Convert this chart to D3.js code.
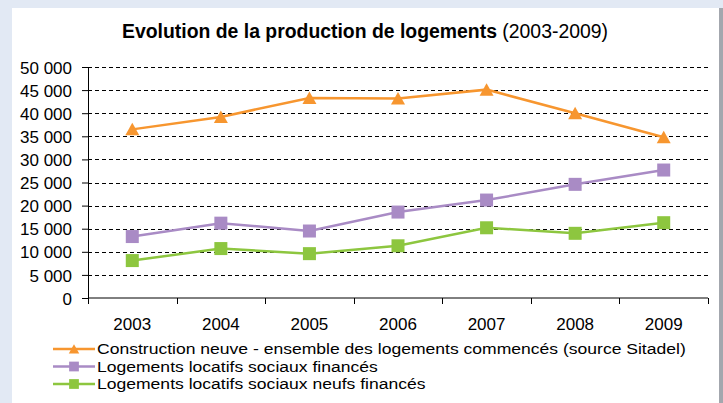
<!DOCTYPE html>
<html>
<head>
<meta charset="utf-8">
<script src="https://cdn.jsdelivr.net/npm/d3@7"></script>
<style>
  body { margin: 0; background: #e2e9f4; }
  svg text { font-family: "Liberation Sans", Arial, sans-serif; fill: #000; }
</style>
</head>
<body>
<svg width="723" height="403"></svg>
<script>
// Chart values
var years = ['2003', '2004', '2005', '2006', '2007', '2008', '2009'];
var constructionNeuve = [36500, 39200, 43300, 43200, 45100, 40000, 34800];
var locatifsSociaux = [13300, 16200, 14500, 18600, 21200, 24600, 27700];
var locatifsNeufs = [8100, 10700, 9600, 11300, 15200, 14000, 16300];
var yTicks = [0, 5000, 10000, 15000, 20000, 25000, 30000, 35000, 40000, 45000, 50000];
var seriesNames = [
    'Construction neuve - ensemble des logements commencés (source Sitadel)',
    'Logements locatifs sociaux financés',
    'Logements locatifs sociaux neufs financés'
];

var series = [
    {name: seriesNames[0], values: constructionNeuve, color: '#f7962f', marker: 'triangle'},
    {name: seriesNames[1], values: locatifsSociaux, color: '#a98bc5', marker: 'square'},
    {name: seriesNames[2], values: locatifsNeufs, color: '#8dc63f', marker: 'square'}
];

var svg = d3.select('svg');

// white panel with grey right edge
svg.append('rect').attr('x', 12).attr('y', 8).attr('width', 708).attr('height', 400).attr('fill', '#fff');
svg.append('rect').attr('x', 719).attr('y', 8).attr('width', 4).attr('height', 400).attr('fill', '#a3a7ae');

var padding = {t: 67, l: 88, r: 15, b: 105};
var chartWidth = 708 - padding.l;
var chartHeight = 298 - padding.t;

var chartG = svg.append('g')
    .attr('transform', 'translate(' + [padding.l, padding.t] + ')');

var xScale = d3.scaleBand().domain(years).range([0, chartWidth]);
var yScale = d3.scaleLinear().domain([0, 50000]).range([chartHeight, 0]);

var formatFr = function(d) {
    return d3.format(',')(d).replace(/,/g, ' ');
};

// dashed gridlines
chartG.selectAll('.grid')
    .data(yTicks.filter(function(d) { return d > 0; }))
    .enter().append('line')
    .attr('class', 'grid')
    .attr('x1', 0).attr('x2', chartWidth)
    .attr('y1', function(d) { return Math.round(yScale(d)) + 0.5; })
    .attr('y2', function(d) { return Math.round(yScale(d)) + 0.5; })
    .attr('stroke', '#000')
    .attr('stroke-dasharray', '4,3');

// y axis
var yAxis = chartG.append('g')
    .call(d3.axisLeft(yScale).tickValues(yTicks).tickFormat(formatFr).tickSize(6).tickSizeOuter(0));
yAxis.select('.domain').attr('stroke', '#000');
yAxis.selectAll('text').attr('font-size', 17).attr('x', -16).attr('dy', '0.36em');

// x axis, ticks on band edges
var xAxisG = chartG.append('g')
    .attr('transform', 'translate(0,' + chartHeight + ')');
xAxisG.append('line').attr('x1', 0).attr('x2', chartWidth).attr('stroke', '#000');
xAxisG.selectAll('.xtick')
    .data(years.concat(['end']))
    .enter().append('line')
    .attr('x1', function(d, i) { return Math.round(i * xScale.step()) + 0.5; })
    .attr('x2', function(d, i) { return Math.round(i * xScale.step()) + 0.5; })
    .attr('y1', 0).attr('y2', 6)
    .attr('stroke', '#000');
xAxisG.selectAll('.xlabel')
    .data(years)
    .enter().append('text')
    .attr('x', function(d) { return xScale(d) + xScale.bandwidth() / 2; })
    .attr('y', 31.5)
    .attr('text-anchor', 'middle')
    .attr('font-size', 17)
    .text(function(d) { return d; });

function drawMarker(sel, type, color) {
    if (type === 'triangle') {
        sel.append('path')
            .attr('d', 'M0,-6.5L7,6L-7,6Z')
            .attr('fill', color);
    } else {
        sel.append('rect')
            .attr('x', -6.5).attr('y', -6.5)
            .attr('width', 13).attr('height', 13)
            .attr('fill', color);
    }
}

var line = d3.line()
    .x(function(d, i) { return xScale(years[i]) + xScale.bandwidth() / 2; })
    .y(function(d) { return yScale(d); });

series.forEach(function(s) {
    chartG.append('path')
        .attr('d', line(s.values))
        .attr('fill', 'none')
        .attr('stroke', s.color)
        .attr('stroke-width', 2.5);
    chartG.selectAll(null)
        .data(s.values)
        .enter().append('g')
        .attr('transform', function(d, i) {
            return 'translate(' + [xScale(years[i]) + xScale.bandwidth() / 2, yScale(d)] + ')';
        })
        .each(function() { drawMarker(d3.select(this), s.marker, s.color); });
});

// title
var title = svg.append('text')
    .attr('x', 365).attr('y', 38)
    .attr('text-anchor', 'middle')
    .attr('font-size', 19.4);
title.append('tspan').attr('font-weight', 'bold').text('Evolution de la production de logements');
title.append('tspan').text(' (2003-2009)');

// legend
var legend = svg.append('g').attr('transform', 'translate(53,349)');
var legendRows = legend.selectAll('.legend-row')
    .data(series)
    .enter().append('g')
    .attr('transform', function(d, i) { return 'translate(0,' + i * 17.5 + ')'; });
legendRows.append('line')
    .attr('x1', 0).attr('x2', 42)
    .attr('stroke', function(d) { return d.color; })
    .attr('stroke-width', 2.5);
legendRows.each(function(d) {
    var g = d3.select(this).append('g').attr('transform', 'translate(21,0)');
    drawMarker(g, d.marker, d.color);
    g.selectAll('*').attr('transform', 'scale(0.75)');
});
// legend text: slightly widened to match the reference run length
legendRows.append('g')
    .attr('transform', 'translate(44,0) scale(1.17,1)')
    .append('text')
    .attr('dy', '0.36em')
    .attr('font-size', 15)
    .text(function(d) { return d.name; });
</script>
</body>
</html>
